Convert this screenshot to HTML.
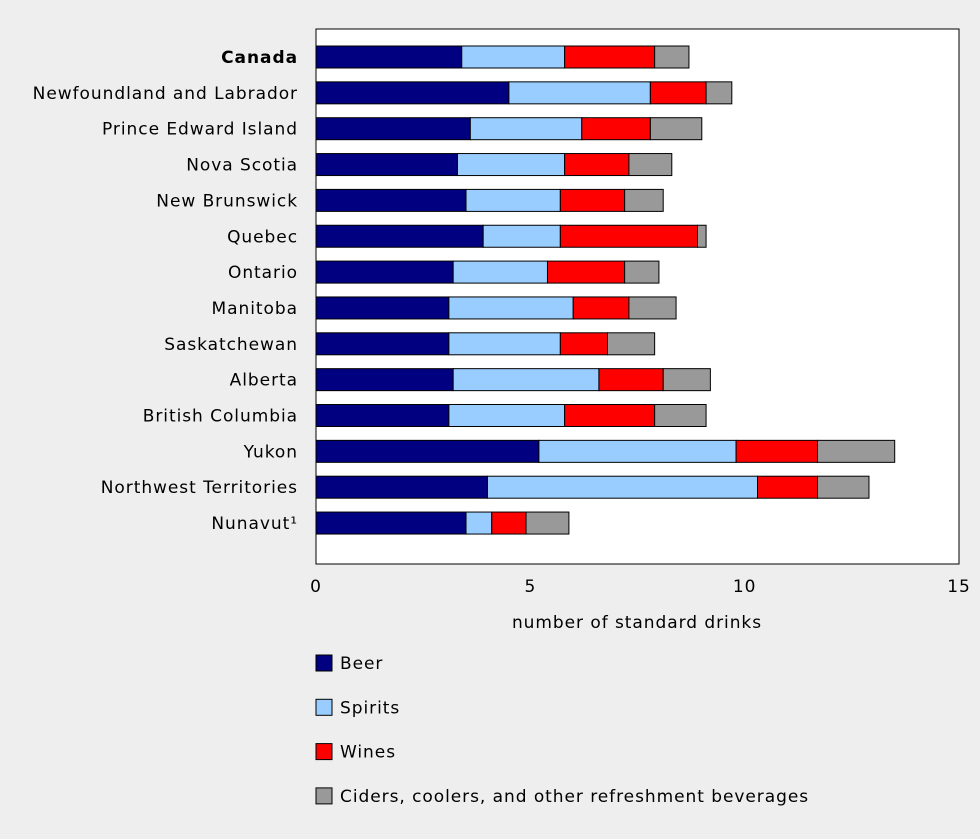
<!DOCTYPE html>
<html><head><meta charset="utf-8"><style>
body{margin:0;background:#eeeeee;font-family:"Liberation Sans","DejaVu Sans",sans-serif;}
svg{display:block}
text{font-family:"DejaVu Sans","Liberation Sans",sans-serif;font-size:17px;fill:#000;letter-spacing:0.95px}
</style></head><body>
<svg id="chart" width="980" height="839">
<rect x="316" y="29" width="643" height="535" fill="#fff" stroke="#000" stroke-width="1"/>
<g id="bars"></g><g id="labels"></g><g id="ticks"></g><g id="legend"></g>
<text x="637" y="628" text-anchor="middle">number of standard drinks</text>
</svg>
<script>
const categories=["Canada","Newfoundland and Labrador","Prince Edward Island","Nova Scotia","New Brunswick","Quebec","Ontario","Manitoba","Saskatchewan","Alberta","British Columbia","Yukon","Northwest Territories","Nunavut¹"];
const beer=[3.4,4.5,3.6,3.3,3.5,3.9,3.2,3.1,3.1,3.2,3.1,5.2,4.0,3.5];
const spirits=[2.4,3.3,2.6,2.5,2.2,1.8,2.2,2.9,2.6,3.4,2.7,4.6,6.3,0.6];
const wines=[2.1,1.3,1.6,1.5,1.5,3.2,1.8,1.3,1.1,1.5,2.1,1.9,1.4,0.8];
const ciders=[0.8,0.6,1.2,1.0,0.9,0.2,0.8,1.1,1.1,1.1,1.2,1.8,1.2,1.0];
const seriesNames=["Beer","Spirits","Wines","Ciders, coolers, and other refreshment beverages"];
const xTicks=[0,5,10,15];
const colors=["#000080","#99ccff","#ff0000","#999999"];
const NS="http://www.w3.org/2000/svg";
const x0=316,x1=959,xMax=15;
const xs=v=>x0+v/xMax*(x1-x0);
const yc=i=>57+i*35.85;
const series=[beer,spirits,wines,ciders];
function mk(tag,attrs,parent){const e=document.createElementNS(NS,tag);for(const k in attrs)e.setAttribute(k,attrs[k]);parent.appendChild(e);return e;}
const gb=document.getElementById('bars'),gl=document.getElementById('labels'),gt=document.getElementById('ticks'),gg=document.getElementById('legend');
categories.forEach((c,i)=>{
  let acc=0;
  series.forEach((s,k)=>{
    const r=mk('rect',{x:xs(acc),y:yc(i)-11,width:xs(acc+s[i])-xs(acc),height:22,fill:colors[k],stroke:'#000','stroke-width':1},gb);
    
    
    acc+=s[i];
  });
  const t=mk('text',{x:298,y:yc(i)+6,'text-anchor':'end'},gl);
  if(i===0)t.setAttribute('font-weight','bold');
  t.textContent=c;
  
  
});
xTicks.forEach(v=>{
  const t=mk('text',{x:xs(v),y:592,'text-anchor':'middle'},gt);
  t.textContent=v;
  
  
});
seriesNames.forEach((n,k)=>{
  const y=663+k*44.3;
  const r=mk('rect',{x:316,y:y-8,width:16,height:16,fill:colors[k],stroke:'#000','stroke-width':1},gg);
  
  
  const t=mk('text',{x:340,y:y+6},gg);
  t.textContent=n;
  
  
});
</script>
</body></html>
